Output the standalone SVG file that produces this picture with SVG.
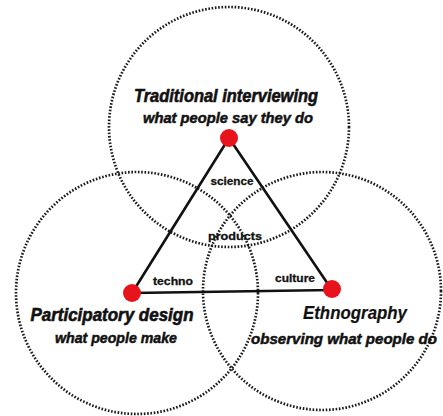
<svg xmlns="http://www.w3.org/2000/svg" width="443" height="416" viewBox="0 0 443 416">
<style>
.ring{fill:none;stroke:#1a1a1a;stroke-width:2.7;stroke-dasharray:1.6 1.7}
.edge{stroke:#111;stroke-width:2.6;fill:none;stroke-linejoin:round}
.dot{fill:#e8141b}
text{font-family:"Liberation Sans",Arial,sans-serif;fill:#111;text-anchor:middle}
.title{font-size:18px;font-weight:bold;font-style:italic;stroke:#111;stroke-width:0.6}
.sub{font-size:15px;font-weight:bold;font-style:italic;stroke:#111;stroke-width:0.5}
.lbl{font-size:11.5px;font-weight:bold;stroke:#111;stroke-width:0.3}
</style>
<rect width="443" height="416" fill="#fff"/>
<g id="circle-interviewing"><circle class="ring" cx="229" cy="127" r="120"/></g>
<g id="circle-participatory"><circle class="ring" cx="137" cy="293" r="121"/></g>
<g id="circle-ethnography"><circle class="ring" cx="322" cy="291" r="119"/></g>
<g id="connectors">
<path class="edge" d="M229,138 L132,293 L332,290 Z"/>
</g>
<g id="node-interviewing">
<circle class="dot" cx="229" cy="138" r="9"/>
<text class="title" x="226" y="102" textLength="184" lengthAdjust="spacingAndGlyphs">Traditional interviewing</text>
<text class="sub" x="228" y="123" textLength="170" lengthAdjust="spacingAndGlyphs">what people say they do</text>
</g>
<g id="node-participatory">
<circle class="dot" cx="132" cy="293" r="9"/>
<text class="title" x="112" y="321" textLength="163" lengthAdjust="spacingAndGlyphs">Participatory design</text>
<text class="sub" x="116" y="343" textLength="122" lengthAdjust="spacingAndGlyphs">what people make</text>
</g>
<g id="node-ethnography">
<circle class="dot" cx="332" cy="289" r="9"/>
<text class="title" x="355" y="319" textLength="104" lengthAdjust="spacingAndGlyphs" style="stroke-width:0.2">Ethnography</text>
<text class="sub" x="344" y="344" textLength="186" lengthAdjust="spacingAndGlyphs">observing what people do</text>
</g>
<g id="labels">
<text class="lbl" x="232" y="185" textLength="43" lengthAdjust="spacingAndGlyphs">science</text>
<text class="lbl" x="235" y="240" textLength="54" lengthAdjust="spacingAndGlyphs">products</text>
<text class="lbl" x="173" y="285" textLength="40" lengthAdjust="spacingAndGlyphs">techno</text>
<text class="lbl" x="295" y="282" textLength="40" lengthAdjust="spacingAndGlyphs">culture</text>
</g>
</svg>
